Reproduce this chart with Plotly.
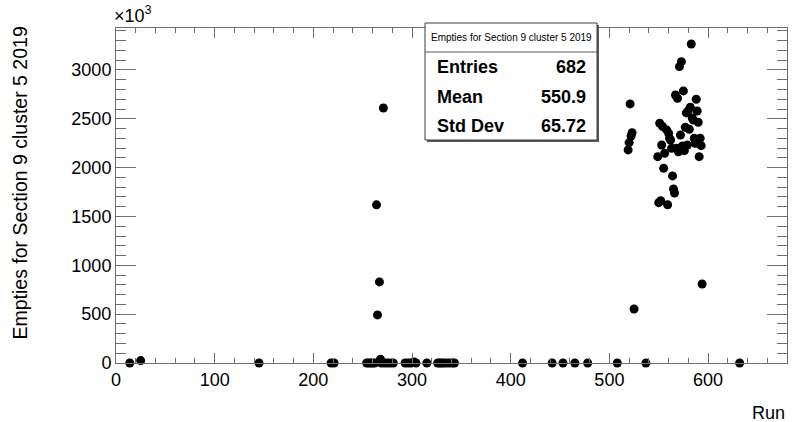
import plotly.graph_objects as go

# Runs and empties (in units of 10^3) for section 9, cluster 5, 2019
runs = [
    14, 25, 145, 218, 221,
    254, 256, 258, 260, 262, 264, 265, 267, 268, 269, 271, 272, 275, 278, 281,
    293, 296, 299, 302, 304, 315,
    326, 328, 330, 332, 335, 338, 341, 343,
    412, 442, 453, 465, 478, 508,
    519, 520, 521, 522, 523, 525, 537,
    549, 550, 551, 552, 553, 554, 555, 556, 558, 559, 560, 561, 562, 563, 564,
    565, 566, 567, 568, 569, 570, 571, 572, 573, 574, 575, 576, 577, 578, 579,
    580, 581, 582, 583, 584, 585, 586, 587, 588, 589, 590, 591, 592, 593, 594,
    632,
]
empties_k = [
    0, 25, 0, 0, 0,
    0, 0, 0, 0, 0, 1619, 492, 830, 38, 0, 2610, 0, 0, 0, 0,
    0, 0, 0, 10, 0, 0,
    0, 0, 0, 0, 0, 0, 0, 0,
    0, 0, 0, 0, 0, 0,
    2181, 2256, 2652, 2324, 2358, 553, 0,
    2112, 1641, 2454, 1661, 2232, 2420, 1993, 2147, 2386, 1620, 2352, 2301, 2283, 2198, 1915,
    1781, 1740, 2744, 2198, 2710, 2163, 3034, 2334, 3085, 2222, 2785, 2174, 2413, 2560, 2232,
    2583, 2393, 2618, 3266, 2508, 2488, 2301, 2249, 2700, 2580, 2464, 2112, 2301, 2225, 809,
    0,
]

hist_title = "Empties for Section 9 cluster 5 2019"
stat_names = ["Entries", "Mean", "Std Dev"]
stat_values = ["682", "550.9", "65.72"]
x_title = "Run"
y_title = "Empties for Section 9 cluster 5 2019"

X_MAX = 680
Y_MAX = max(empties_k) * 1.05

W, H = 792, 422
L, R, T, B = 116, 5, 28, 59
plot_w = W - L - R
plot_h = H - T - B


def px(x):
    return (x - L) / plot_w


def py(y):
    return (H - B - y) / plot_h


FONT = "Liberation Sans, Arial, Helvetica, sans-serif"
AXIS_COL = "rgb(110,110,110)"

fig = go.Figure()
fig.add_trace(go.Scatter(
    x=runs, y=empties_k, mode="markers",
    marker=dict(color="black", size=9, line=dict(width=0)),
    cliponaxis=False, showlegend=False, hoverinfo="x+y",
))

axis_common = dict(
    showgrid=False, zeroline=False, showline=True, linecolor=AXIS_COL, linewidth=1,
    mirror="ticks", ticks="inside", tickcolor=AXIS_COL, tickwidth=1,
    tickfont=dict(family=FONT, size=18, color="black"),
)
fig.update_xaxes(
    range=[0, X_MAX], dtick=100, tick0=0, ticklen=10,
    minor=dict(dtick=20, ticklen=5, ticks="inside", tickcolor=AXIS_COL),
    **axis_common,
)
fig.update_yaxes(
    range=[0, Y_MAX], dtick=500, tick0=0, ticklen=20,
    minor=dict(dtick=100, ticklen=10, ticks="inside", tickcolor=AXIS_COL),
    **axis_common,
)

annotations = [
    # axis titles, right-aligned at the axis ends
    dict(x=1.0, y=py(413), xref="paper", yref="paper", text=x_title,
         xanchor="right", yanchor="middle", showarrow=False,
         font=dict(family=FONT, size=18, color="black")),
    dict(x=px(19), y=py(25), xref="paper", yref="paper", text=y_title, textangle=-90,
         xanchor="center", yanchor="top", showarrow=False,
         font=dict(family=FONT, size=19.5, color="black")),
    # axis multiplier
    dict(x=px(112), y=py(28), xref="paper", yref="paper", text="×10<sup>3</sup>",
         xanchor="left", yanchor="bottom", showarrow=False,
         font=dict(family=FONT, size=18, color="black")),
    # statistics box title
    dict(x=(px(425) + px(597)) / 2, y=py(37.5), xref="paper", yref="paper",
         text=hist_title, xanchor="center", yanchor="middle", showarrow=False,
         font=dict(family=FONT, size=10, color="black")),
]
row_y = [67, 97, 126]
for name, val, yy in zip(stat_names, stat_values, row_y):
    annotations.append(dict(x=px(435), y=py(yy), xref="paper", yref="paper",
                            text=f"<b>{name}</b>", xanchor="left", yanchor="middle",
                            showarrow=False, font=dict(family=FONT, size=18, color="black")))
    annotations.append(dict(x=px(588), y=py(yy), xref="paper", yref="paper",
                            text=f"<b>{val}</b>", xanchor="right", yanchor="middle",
                            showarrow=False, font=dict(family=FONT, size=18, color="black")))

shapes = [
    # statistics box shadow, body and title separator
    dict(type="rect", xref="paper", yref="paper",
         x0=px(427), x1=px(599), y0=py(142), y1=py(25),
         line=dict(width=0), fillcolor="rgb(90,90,90)", layer="above"),
    dict(type="rect", xref="paper", yref="paper",
         x0=px(425), x1=px(597), y0=py(140), y1=py(23),
         line=dict(color="rgb(60,60,60)", width=1), fillcolor="white", layer="above"),
    dict(type="line", xref="paper", yref="paper",
         x0=px(425), x1=px(597), y0=py(52), y1=py(52),
         line=dict(color="rgb(90,90,90)", width=1), layer="above"),
]

fig.update_layout(
    width=W, height=H, autosize=False,
    margin=dict(l=L, r=R, t=T, b=B, pad=0),
    paper_bgcolor="white", plot_bgcolor="white",
    annotations=annotations, shapes=shapes,
    font=dict(family=FONT, color="black"),
)

fig.write_html("out.html")
